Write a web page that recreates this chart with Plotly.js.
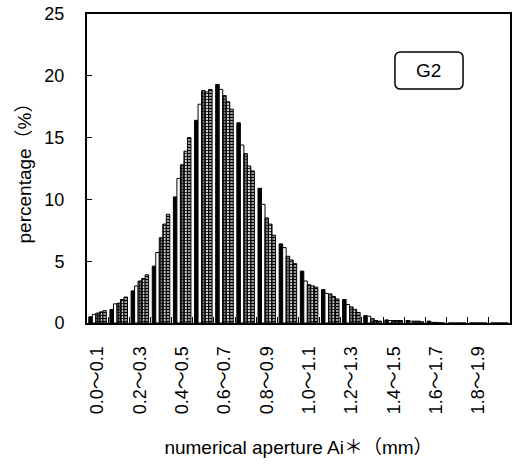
<!DOCTYPE html>
<html>
<head>
<meta charset="utf-8">
<script src="https://cdn.plot.ly/plotly-3.0.1.min.js"></script>
<style>html,body{margin:0;padding:0;background:#fff;}#chart{width:513px;height:464px;}</style>
</head>
<body>
<div id="chart"></div>
<script>
var categories = ["0.0～0.1","0.1～0.2","0.2～0.3","0.3～0.4","0.4～0.5","0.5～0.6","0.6～0.7","0.7～0.8","0.8～0.9","0.9～1.0",
                  "1.0～1.1","1.1～1.2","1.2～1.3","1.3～1.4","1.4～1.5","1.5～1.6","1.6～1.7","1.7～1.8","1.8～1.9","1.9～2.0"];
var tickLabels = ["0.0～0.1","","0.2～0.3","","0.4～0.5","","0.6～0.7","","0.8～0.9","",
                  "1.0～1.1","","1.2～1.3","","1.4～1.5","","1.6～1.7","","1.8～1.9",""];
var s1 = [0.5, 1.1, 2.6, 4.6, 10.2, 16.4, 19.3, 16.2, 10.9, 6.4, 4.2, 2.7, 1.9, 0.6, 0.25, 0.2, 0.15, 0, 0, 0];
var s2 = [0.7, 1.55, 3.0, 5.7, 11.7, 17.7, 18.9, 14.4, 9.6, 6.1, 3.4, 2.4, 1.5, 0.55, 0.2, 0.15, 0.05, 0, 0, 0];
var s3 = [0.8, 1.6, 3.4, 6.9, 12.8, 18.8, 18.4, 13.7, 8.5, 5.4, 3.1, 2.35, 1.3, 0.35, 0.2, 0.15, 0.05, 0, 0, 0];
var s4 = [0.9, 1.9, 3.6, 8.0, 13.9, 18.7, 17.9, 12.7, 8.0, 5.1, 3.0, 2.15, 1.1, 0.2, 0.2, 0.15, 0.02, 0, 0, 0];
var s5 = [1.0, 2.1, 3.9, 8.8, 15.0, 18.9, 17.3, 12.3, 7.1, 4.8, 2.9, 1.95, 0.85, 0.15, 0.2, 0.1, 0, 0, 0, 0];

var FONT = "Liberation Sans, Arial, Noto Sans CJK JP, sans-serif";
function bar(y, color, pattern) {
  var m = {color: color, line: {color: "#000", width: 1}};
  if (pattern) m.pattern = pattern;
  return {type: "bar", x: categories, y: y, marker: m, hoverinfo: "skip", showlegend: false};
}
var data = [
  bar(s1, "#000", null),
  bar(s2, "#fff", null),
  bar(s3, "#fff", {shape: ".", fgcolor: "#000", bgcolor: "#999", size: 3, solidity: 0.5}),
  bar(s4, "#fff", {shape: "+", fgcolor: "#000", bgcolor: "#ccc", size: 3, solidity: 0.45}),
  bar(s5, "#fff", {shape: "-", fgcolor: "#000", bgcolor: "#bbb", size: 3, solidity: 0.45})
];

var layout = {
  width: 513, height: 464,
  margin: {l: 87, r: 3, t: 14, b: 141},
  paper_bgcolor: "#fff", plot_bgcolor: "#fff",
  font: {family: FONT, color: "#000", size: 17},
  barmode: "group", bargap: 0.17, bargroupgap: 0,
  xaxis: {
    type: "category", categoryorder: "array", categoryarray: categories,
    range: [-0.5, 19.5],
    tickmode: "array", tickvals: categories, ticktext: tickLabels,
    tickson: "boundaries", ticks: "inside", ticklen: 6, tickcolor: "#000", tickwidth: 1,
    tickangle: -90, tickfont: {family: FONT, size: 18, color: "#000"},
    ticklabelstandoff: 14,
    showline: true, linecolor: "#000", linewidth: 2, mirror: true,
    showgrid: false, zeroline: false,
    title: {text: "numerical aperture Ai＊（mm）", font: {family: FONT, size: 19, color: "#000"}, standoff: 27}
  },
  yaxis: {
    range: [0, 25], tickmode: "array", tickvals: [0, 5, 10, 15, 20, 25],
    ticks: "inside", ticklen: 5, tickcolor: "#000",
    tickfont: {family: FONT, size: 18, color: "#000"},
    ticklabelstandoff: 17,
    showline: true, linecolor: "#000", linewidth: 2, mirror: true,
    showgrid: false, zeroline: false,
    title: {text: "percentage（%）", font: {family: FONT, size: 19, color: "#000"}, standoff: 8}
  },
  shapes: [{
    type: "path", xref: "paper", yref: "paper",
    path: "M 0.742,0.877 L 0.875,0.877 Q 0.889,0.877 0.889,0.858 L 0.889,0.776 Q 0.889,0.757 0.875,0.757 L 0.742,0.757 Q 0.728,0.757 0.728,0.776 L 0.728,0.858 Q 0.728,0.877 0.742,0.877 Z",
    line: {color: "#000", width: 1.5}, fillcolor: "#fff"
  }],
  annotations: [{
    xref: "paper", yref: "paper", x: 0.8085, y: 0.817, text: "G2", showarrow: false,
    font: {family: FONT, size: 19, color: "#000"}, xanchor: "center", yanchor: "middle"
  }]
};
Plotly.newPlot("chart", data, layout, {displayModeBar: false, staticPlot: true});
</script>
</body>
</html>
